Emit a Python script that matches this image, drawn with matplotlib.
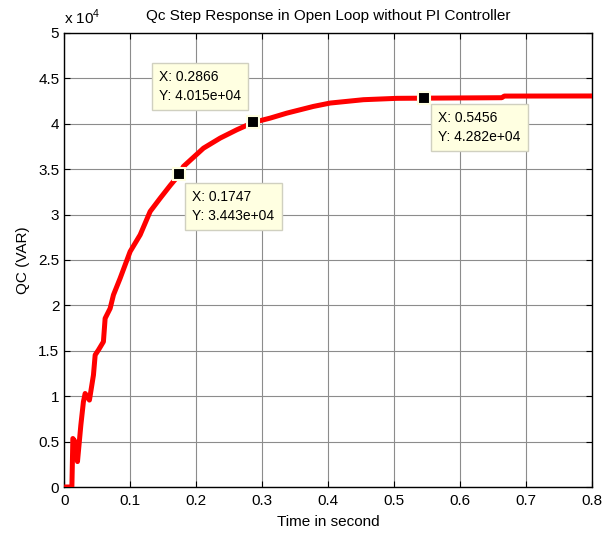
import numpy as np
import matplotlib.pyplot as plt
from matplotlib.ticker import FuncFormatter, MultipleLocator

plt.rcParams['font.family'] = ['Liberation Sans', 'DejaVu Sans']
plt.rcParams['mathtext.fontset'] = 'custom'
plt.rcParams['mathtext.rm'] = 'Liberation Sans'

# Qc step response (open loop, no PI controller)
time_s = [0, 0.0117, 0.0132, 0.0167, 0.0202, 0.0253, 0.0292, 0.0318, 0.0383,
          0.0444, 0.0470, 0.0520, 0.0595, 0.0621, 0.0697, 0.0747, 0.0848,
          0.1000, 0.1152, 0.1303, 0.1455, 0.1606, 0.1747, 0.1808, 0.2111,
          0.2364, 0.2617, 0.2866, 0.3121, 0.3374, 0.3777, 0.4030, 0.4535,
          0.5041, 0.5456, 0.6632, 0.6670, 0.8]
qc_var = [0, 0, 5340, 4980, 2800, 6820, 9390, 10300, 9570,
          12330, 14540, 15090, 16000, 18570, 19670, 21150, 22980,
          25930, 27770, 30340, 31800, 33200, 34430, 35300, 37310,
          38420, 39340, 40150, 40620, 41170, 41910, 42280, 42650,
          42800, 42820, 42870, 43050, 43060]

# data tips
tip_x = [0.1747, 0.2866, 0.5456]
tip_y = [3.443e4, 4.015e4, 4.282e4]
tip_offsets = [(13, -16), (-94, 52), (14, -13)]

fig = plt.figure(figsize=(6.11, 5.35), dpi=100)
ax = fig.add_axes([0.105, 0.0897, 0.864, 0.8487])

ax.plot(time_s, qc_var, color='red', lw=3.6, solid_joinstyle='round',
        solid_capstyle='butt', zorder=3)

for x, y, off in zip(tip_x, tip_y, tip_offsets):
    ax.plot(x, y, 's', ms=8, mfc='black', mec='#ffffe1', mew=1.5, zorder=5)
    ax.annotate('X: %.4g\nY: %.4g' % (x, y), xy=(x, y), xytext=off,
                textcoords='offset pixels', ha='left', va='top', fontsize=10,
                linespacing=1.45, zorder=6,
                bbox=dict(boxstyle='square,pad=0.5', fc='#ffffe1', ec='#d0d0c0', lw=1))

ax.set_xlim(0, 0.8)
ax.set_ylim(0, 5e4)
ax.xaxis.set_major_locator(MultipleLocator(0.1))
ax.xaxis.set_major_formatter(FuncFormatter(lambda v, p: '%g' % round(v, 2)))
ax.yaxis.set_major_locator(MultipleLocator(5000))
ax.yaxis.set_major_formatter(FuncFormatter(lambda v, p: '%g' % (v / 1e4)))
ax.tick_params(direction='in', length=4, top=True, right=True, labelsize=11)
ax.tick_params(axis='x', pad=5)
ax.grid(True, color='0.55', lw=0.8)
ax.set_axisbelow(True)
for s in ax.spines.values():
    s.set_linewidth(1.0)

ax.set_title('Qc Step Response in Open Loop without PI Controller', fontsize=11, pad=9)
ax.set_xlabel('Time in second', fontsize=11, labelpad=5)
ax.set_ylabel('QC (VAR)', fontsize=11, labelpad=6)
ax.text(0.0, 1.014, r'x 10$^{4}$', transform=ax.transAxes, fontsize=11, ha='left', va='bottom')

fig.savefig('out.png', dpi=100)
